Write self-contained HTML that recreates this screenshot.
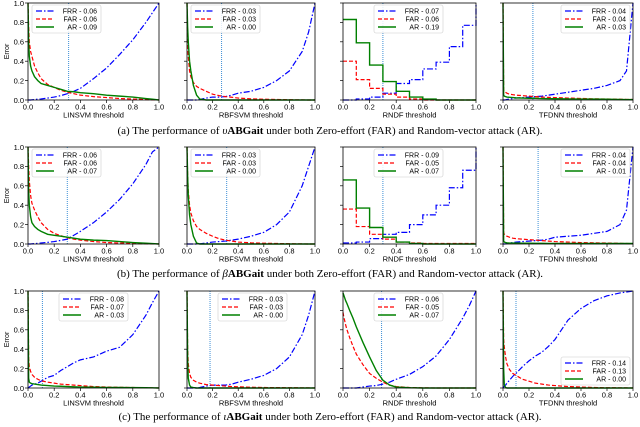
<!DOCTYPE html>
<html><head><meta charset="utf-8">
<style>
html,body{margin:0;padding:0;background:#fff;}
svg{display:block;font-family:"Liberation Sans","DejaVu Sans",sans-serif;}
.cap{font-family:"Liberation Serif",serif;font-size:11px;}
</style></head>
<body>
<svg id="fig" width="640" height="427" viewBox="0 0 640 427" xmlns="http://www.w3.org/2000/svg">
<text class="cap" x="330" y="134" text-anchor="middle">(a) The performance of <tspan font-style="italic">υ</tspan><tspan font-weight="bold">ABGait</tspan> under both Zero-effort (FAR) and Random-vector attack (AR).</text>
<text class="cap" x="330" y="277" text-anchor="middle">(b) The performance of <tspan font-style="italic">β</tspan><tspan font-weight="bold">ABGait</tspan> under both Zero-effort (FAR) and Random-vector attack (AR).</text>
<text class="cap" x="330" y="420" text-anchor="middle">(c) The performance of <tspan font-style="italic">ι</tspan><tspan font-weight="bold">ABGait</tspan> under both Zero-effort (FAR) and Random-vector attack (AR).</text>
</svg>
<script>
// Shared x grids
const xGrid = [0,0.005,0.01,0.02,0.03,0.05,0.075,0.1,0.15,0.2,0.25,0.3,0.35,0.4,0.5,0.6,0.7,0.8,0.9,0.95,1.0];
const xStep = [0,0.1,0.2,0.3,0.4,0.5,0.6,0.7,0.8,0.9,1.0];
const yTicks = [0,0.2,0.4,0.6,0.8,1.0];
const xTicks = [0,0.2,0.4,0.6,0.8,1.0];
const tickLabels = ["0.0","0.2","0.4","0.6","0.8","1.0"];
const classifiers = ["LINSVM","RBFSVM","RNDF","TFDNN"];

// Row a
const aLinFRR = [0,0,0,0,0.002,0.005,0.008,0.01,0.02,0.03,0.045,0.065,0.09,0.12,0.22,0.33,0.47,0.62,0.8,0.9,1.0];
const aLinFAR = [1,0.75,0.6,0.5,0.45,0.35,0.28,0.22,0.16,0.13,0.1,0.08,0.065,0.05,0.035,0.025,0.015,0.01,0.005,0.002,0];
const aLinAR  = [1,0.6,0.45,0.35,0.3,0.24,0.2,0.17,0.15,0.13,0.11,0.09,0.085,0.075,0.065,0.05,0.04,0.03,0.015,0.008,0];
const aRbfFRR = [0,0,0,0,0,0,0,0.005,0.02,0.03,0.03,0.035,0.05,0.07,0.09,0.13,0.2,0.3,0.5,0.7,1.0];
const aRbfFAR = [1,0.6,0.45,0.3,0.24,0.18,0.14,0.12,0.09,0.06,0.045,0.035,0.028,0.02,0.012,0.008,0.005,0.003,0.001,0,0];
const aRbfAR  = [1,0.75,0.6,0.4,0.3,0.15,0.05,0.01,0,0,0,0,0,0,0,0,0,0,0,0,0];
const aRndFRR = [0,0.01,0.03,0.07,0.17,0.21,0.32,0.39,0.55,0.77,1.0];
const aRndFAR = [0.4,0.21,0.12,0.06,0.03,0.01,0,0,0,0,0];
const aRndAR  = [0.83,0.59,0.36,0.19,0.09,0.03,0.01,0,0,0,0];
const aDnnFRR = [0,0,0,0.002,0.005,0.01,0.015,0.02,0.025,0.03,0.035,0.04,0.05,0.06,0.08,0.1,0.12,0.15,0.2,0.3,1.0];
const aDnnFAR = [1,0.1,0.09,0.08,0.07,0.06,0.055,0.05,0.045,0.04,0.035,0.03,0.027,0.025,0.02,0.016,0.012,0.01,0.008,0.006,0.005];
const aDnnAR  = [1,0.05,0.04,0.035,0.03,0.028,0.025,0.022,0.02,0.018,0.017,0.015,0.014,0.013,0.011,0.01,0.009,0.008,0.006,0.005,0.005];
// Row b
const bLinFRR = [0,0,0,0,0.002,0.004,0.007,0.01,0.017,0.025,0.037,0.05,0.09,0.13,0.22,0.33,0.46,0.62,0.82,0.95,1.0];
const bLinFAR = [1,0.8,0.65,0.5,0.42,0.35,0.28,0.22,0.15,0.11,0.085,0.065,0.05,0.04,0.025,0.015,0.01,0.006,0.003,0.001,0];
const bLinAR  = [1,0.55,0.4,0.28,0.22,0.18,0.15,0.13,0.1,0.09,0.08,0.07,0.06,0.05,0.04,0.035,0.025,0.015,0.008,0.004,0];
const bRbfFRR = [0,0,0,0,0,0,0,0.002,0.01,0.02,0.025,0.03,0.04,0.05,0.08,0.12,0.2,0.33,0.6,0.8,1.0];
const bRbfFAR = [1,0.7,0.55,0.4,0.32,0.24,0.18,0.15,0.11,0.08,0.055,0.04,0.03,0.02,0.012,0.008,0.005,0.003,0.001,0,0];
const bRbfAR  = [1,0.7,0.5,0.3,0.2,0.08,0.01,0,0,0,0,0,0,0,0,0,0,0,0,0,0];
const bRndFRR = [0.01,0.02,0.055,0.1,0.12,0.2,0.3,0.4,0.58,0.76,1.0];
const bRndFAR = [0.36,0.18,0.1,0.05,0.02,0.01,0.005,0.005,0.005,0.005,0.005];
const bRndAR  = [0.66,0.37,0.17,0.07,0.02,0.005,0,0,0,0,0];
const bDnnFRR = [0,0,0,0.002,0.005,0.01,0.015,0.02,0.025,0.03,0.035,0.04,0.05,0.07,0.08,0.09,0.11,0.13,0.2,0.35,1.0];
const bDnnFAR = [1,0.12,0.1,0.09,0.08,0.07,0.06,0.055,0.05,0.045,0.04,0.035,0.03,0.025,0.02,0.015,0.012,0.01,0.007,0.005,0.003];
const bDnnAR  = [1,0.03,0.02,0.015,0.012,0.01,0.01,0.009,0.008,0.008,0.007,0.007,0.006,0.006,0.006,0.005,0.005,0.005,0.005,0.005,0.005];
// Row c
const cLinFRR = [0,0.005,0.01,0.02,0.03,0.04,0.05,0.07,0.11,0.13,0.18,0.22,0.26,0.29,0.32,0.38,0.42,0.55,0.75,0.88,1.0];
const cLinFAR = [1,0.3,0.22,0.17,0.14,0.11,0.09,0.075,0.06,0.05,0.04,0.035,0.03,0.025,0.015,0.01,0.007,0.005,0.003,0.001,0];
const cLinAR  = [1,0.1,0.06,0.05,0.045,0.04,0.035,0.03,0.025,0.02,0.018,0.015,0.012,0.01,0.008,0.006,0.005,0.004,0.003,0.002,0];
const cRbfFRR = [0,0,0,0,0,0,0,0.005,0.02,0.03,0.03,0.03,0.04,0.06,0.09,0.13,0.2,0.32,0.55,0.75,1.0];
const cRbfFAR = [1,0.4,0.25,0.15,0.11,0.08,0.06,0.05,0.035,0.03,0.025,0.02,0.015,0.012,0.008,0.005,0.004,0.003,0.002,0.001,0];
const cRbfAR  = [1,0.3,0.1,0.03,0.01,0.005,0,0,0,0,0,0,0,0,0,0,0,0,0,0,0];
const cRndFRR = [0,0,0,0,0,0,0,0,0.01,0.02,0.025,0.04,0.06,0.09,0.14,0.22,0.33,0.5,0.72,0.85,1.0];
const cRndFAR = [0.78,0.74,0.71,0.65,0.6,0.52,0.43,0.35,0.24,0.15,0.1,0.06,0.03,0.015,0.005,0.002,0,0,0,0,0];
const cRndAR  = [0.98,0.96,0.94,0.9,0.87,0.8,0.72,0.63,0.47,0.32,0.18,0.08,0.03,0.01,0.003,0,0,0,0,0,0];
const cDnnFRR = [0,0.01,0.02,0.03,0.05,0.08,0.12,0.15,0.22,0.28,0.33,0.37,0.43,0.5,0.7,0.82,0.9,0.95,0.98,0.99,1.0];
const cDnnFAR = [1,0.5,0.42,0.32,0.25,0.19,0.15,0.13,0.09,0.07,0.05,0.04,0.03,0.025,0.015,0.01,0.005,0.003,0.002,0.001,0];
const cDnnAR  = [1,0.2,0.03,0.005,0,0,0,0,0,0,0,0,0,0,0,0,0,0,0,0,0];

const thresholds = [[0.31,0.27,0.30,0.23],[0.30,0.31,0.30,0.27],[0.11,0.18,0.29,0.10]];
const legendVals = [
 [["0.06","0.06","0.09"],["0.03","0.03","0.00"],["0.07","0.06","0.19"],["0.04","0.04","0.03"]],
 [["0.06","0.06","0.07"],["0.03","0.03","0.00"],["0.09","0.05","0.07"],["0.04","0.04","0.01"]],
 [["0.08","0.07","0.03"],["0.03","0.03","0.00"],["0.06","0.05","0.07"],["0.14","0.13","0.00"]]
];
const panels = [
 [[aLinFRR,aLinFAR,aLinAR],[aRbfFRR,aRbfFAR,aRbfAR],[aRndFRR,aRndFAR,aRndAR],[aDnnFRR,aDnnFAR,aDnnAR]],
 [[bLinFRR,bLinFAR,bLinAR],[bRbfFRR,bRbfFAR,bRbfAR],[bRndFRR,bRndFAR,bRndAR],[bDnnFRR,bDnnFAR,bDnnAR]],
 [[cLinFRR,cLinFAR,cLinAR],[cRbfFRR,cRbfFAR,cRbfAR],[cRndFRR,cRndFAR,cRndAR],[cDnnFRR,cDnnFAR,cDnnAR]]
];
const stepPanels = [[false,false,true,false],[false,false,true,false],[false,false,false,false]];

const NS = "http://www.w3.org/2000/svg";
const svg = document.getElementById("fig");
const colX = [[28,159],[187,315],[343,476],[503,633]];
const rowY = [[3,100],[147,244],[291,388]];
const seriesNames = ["FRR","FAR","AR"];
const seriesColor = ["#0000ff","#ff0000","#008000"];
const seriesDash = ["6,2,1.5,2","4,2",""];
function mk(tag, attrs, parent){const e=document.createElementNS(NS,tag);for(const k in attrs)e.setAttribute(k,attrs[k]);(parent||svg).appendChild(e);return e;}

for(let r=0;r<3;r++){
 for(let c=0;c<4;c++){
  const x0=colX[c][0],x1=colX[c][1],yT=rowY[r][0],yB=rowY[r][1];
  const sx=v=>x0+v*(x1-x0);
  const sy=v=>yB-v*(yB-yT);
  const g=mk("g",{});
  
  
  yTicks.forEach((t,i)=>{
   const tk=mk("line",{x1:x0-3,x2:x0,y1:sy(t),y2:sy(t),stroke:"#000","stroke-width":0.7},g);
   
   
   if(c===0){
    const tl=mk("text",{x:x0-4,y:sy(t)+2.8,"font-size":7.5,"text-anchor":"end"},g);
    tl.textContent=tickLabels[i];
    
    
   }
  });
  xTicks.forEach((t,i)=>{
   mk("line",{x1:sx(t),x2:sx(t),y1:yB,y2:yB+3,stroke:"#000","stroke-width":0.7},g);
   const tl=mk("text",{x:sx(t),y:yB+9.5,"font-size":7.5,"text-anchor":"middle"},g);
   tl.textContent=tickLabels[i];
   
   
  });
  const xl=mk("text",{x:(x0+x1)/2,y:yB+17.5,"font-size":7.5,"text-anchor":"middle"},g);
  xl.textContent=classifiers[c]+" threshold";
  
  
  if(c===0){
   const yl=mk("text",{x:0,y:0,"font-size":7,"text-anchor":"middle",transform:`translate(9,${(yT+yB)/2}) rotate(-90)`},g);
   yl.textContent="Error";
   
   
  }
  const th=mk("line",{x1:sx(thresholds[r][c]),x2:sx(thresholds[r][c]),y1:yT,y2:yB,stroke:"#3d8fd6","stroke-width":1,"stroke-dasharray":"1,1"},g);
  
  
  const xs = stepPanels[r][c]?xStep:xGrid;
  for(let s=0;s<3;s++){
   const vals=panels[r][c][s];
   let pts=[];
   for(let i=0;i<vals.length;i++){
    if(stepPanels[r][c]){
     pts.push(sx(xs[i]).toFixed(2)+","+sy(vals[i]).toFixed(2));
     if(i<vals.length-1) pts.push(sx(xs[i+1]).toFixed(2)+","+sy(vals[i]).toFixed(2));
    } else pts.push(sx(xs[i]).toFixed(2)+","+sy(vals[i]).toFixed(2));
   }
   const pl=mk("polyline",{points:pts.join(" "),fill:"none",stroke:seriesColor[s],"stroke-width":s===2?1.4:1.2,"stroke-dasharray":seriesDash[s]},g);
   
   
  }
  const fr=mk("rect",{x:x0,y:yT,width:x1-x0,height:yB-yT,fill:"none",stroke:"#000","stroke-width":0.8},g);
  
  
  const lw=69,lh=28;
  let lx,ly=yT+2;
  if(c<2 && r<2) lx=x0+4;
  else if(c===3 && r<2) lx=x1-lw-3;
  else if(c===3 && r===2){lx=x1-lw-3;ly=yB-lh-3;}
  else lx=x0+31;
  const lg=mk("g",{},g);
  
  
  mk("rect",{x:lx,y:ly,width:lw,height:lh,rx:2,fill:"#fff","fill-opacity":0.85,stroke:"#ccc","stroke-width":0.6},lg);
  for(let s=0;s<3;s++){
   const yy=ly+6+s*8;
   const ll=mk("line",{x1:lx+4,x2:lx+22,y1:yy,y2:yy,stroke:seriesColor[s],"stroke-width":s===2?1.4:1.2,"stroke-dasharray":seriesDash[s]},lg);
   
   
   const lt=mk("text",{x:lx+lw-4,y:yy+2.5,"font-size":7,"text-anchor":"end"},lg);
   lt.textContent=seriesNames[s]+" - "+legendVals[r][c][s];
   
   
  }
 }
}
</script>
</body></html>
